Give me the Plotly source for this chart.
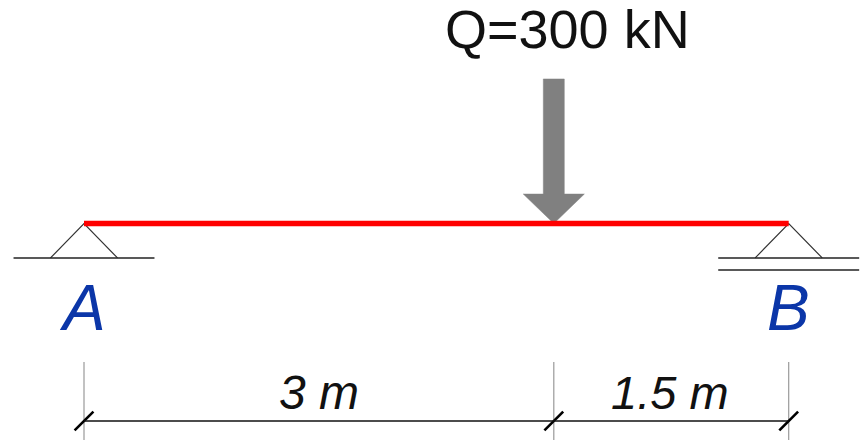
import plotly.graph_objects as go

# Problem data, in metres
span_lengths = [3.0, 1.5]
span_labels = ["3 m", "1.5 m"]
support_labels = ["A", "B"]
load_label = "Q=300 kN"

# Derived positions along the beam
x_a = 0.0
x_q = x_a + span_lengths[0]
x_b = x_q + span_lengths[1]

SCALE = 156.6  # pixels per metre of the drawing
x_range = [-84 / SCALE, 780 / SCALE]
y_range = [-216.5 / SCALE, 223.5 / SCALE]

# Drawing dimensions, in metres
sup_w, sup_h = 0.214, 0.22
gnd_w = 0.45
roller_gap = 0.077
shaft_w, shaft_top = 0.067, 0.923
head_w, head_h = 0.195, 0.188
ext_top, ext_bot = -0.884, y_range[0]
dim_y = -1.261
tick = 0.06

BLUE = "#0b36a8"
fig = go.Figure()


def line(xs, ys, color="#222222", width=1.6):
    fig.add_trace(go.Scatter(x=xs, y=ys, mode="lines", hoverinfo="skip",
                             line=dict(color=color, width=width)))


# Load arrow
fig.add_trace(go.Scatter(
    x=[x_q - shaft_w, x_q + shaft_w, x_q + shaft_w, x_q + head_w, x_q,
       x_q - head_w, x_q - shaft_w, x_q - shaft_w],
    y=[shaft_top, shaft_top, head_h, head_h, 0, head_h, head_h, shaft_top],
    mode="lines", fill="toself", fillcolor="#808080", hoverinfo="skip",
    line=dict(color="#808080", width=0.5)))

# Supports
for xs in (x_a, x_b):
    line([xs - sup_w, xs, xs + sup_w], [-sup_h, 0, -sup_h], color="#333333", width=1.2)
    line([xs - gnd_w, xs + gnd_w], [-sup_h, -sup_h])
line([x_b - gnd_w, x_b + gnd_w], [-sup_h - roller_gap, -sup_h - roller_gap])

# Beam
line([x_a, x_b], [0, 0], color="#ff0000", width=5.5)

# Dimension chain
for xs in (x_a, x_q, x_b):
    line([xs, xs], [ext_top, ext_bot], color="#999999", width=1.2)
    line([xs - tick, xs + tick], [dim_y - tick, dim_y + tick], color="#000000", width=2.6)
line([x_a, x_b], [dim_y, dim_y], color="#111111", width=1.5)


def text(x, y, s, size, color="#111111", italic=False):
    fig.add_annotation(x=x, y=y, text=s, showarrow=False, xanchor="center", yanchor="middle",
                       font=dict(family="Liberation Sans", size=size, color=color,
                                 style="italic" if italic else "normal"))


text(x_q + 0.09, 1.243, load_label, 54)
text(x_a - 0.01, -0.54, support_labels[0], 64, BLUE, True)
text(x_b, -0.54, support_labels[1], 64, BLUE, True)
text(x_a + span_lengths[0] / 2, -1.076, span_labels[0], 48, italic=True)
text(x_q + span_lengths[1] / 2 - 0.01, -1.076, span_labels[1], 47, italic=True)

fig.update_layout(
    width=864, height=440, margin=dict(l=0, r=0, t=0, b=0),
    paper_bgcolor="white", plot_bgcolor="white", showlegend=False,
    xaxis=dict(range=x_range, visible=False, fixedrange=True),
    yaxis=dict(range=y_range, visible=False, fixedrange=True),
)
fig.write_html("out.html", config={"displayModeBar": False},
               post_script="document.body.style.margin='0';")
